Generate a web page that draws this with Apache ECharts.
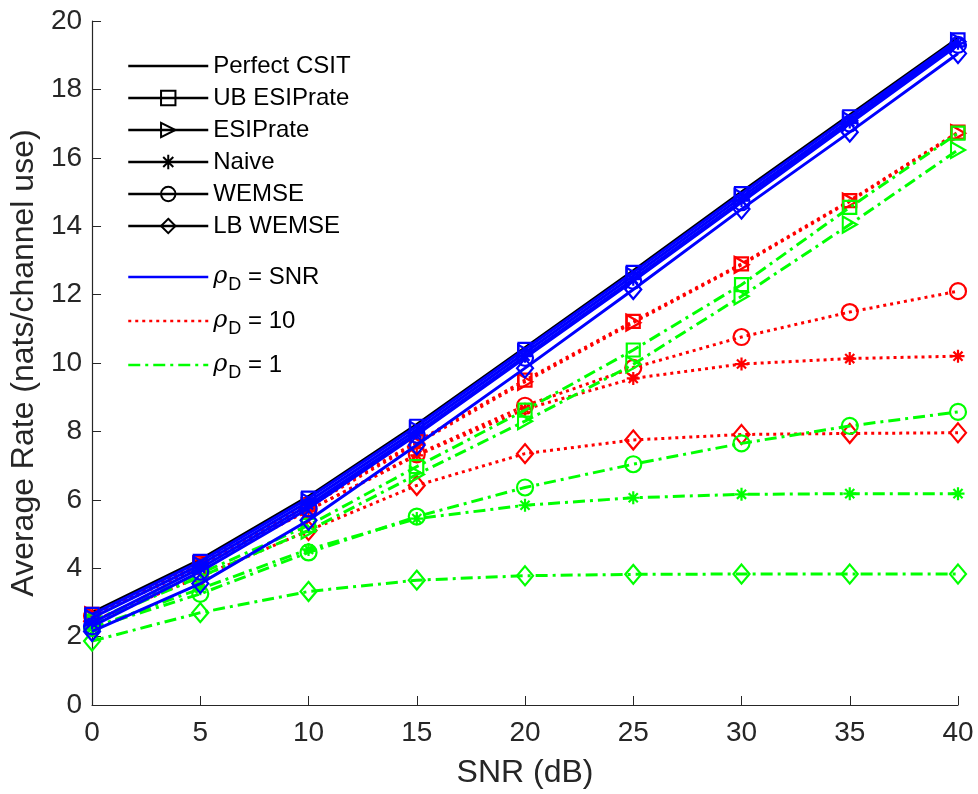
<!DOCTYPE html>
<html><head><meta charset="utf-8">
<script src="https://cdn.jsdelivr.net/npm/echarts@6/dist/echarts.min.js"></script>
<style>html,body{margin:0;padding:0;background:#fff}#c{width:978px;height:794px}</style>
</head><body><div id="c"></div>
<script>
const snr = [0, 5, 10, 15, 20, 25, 30, 35, 40];
const xTicks = [0, 5, 10, 15, 20, 25, 30, 35, 40];
const yTicks = [0, 2, 4, 6, 8, 10, 12, 14, 16, 18, 20];

const perfectCSIT = [2.70, 4.25, 6.10, 8.20, 10.45, 12.70, 15.00, 17.25, 19.50];

// rho_D = SNR (blue)
const ubSNR    = [2.65, 4.20, 6.05, 8.15, 10.40, 12.65, 14.95, 17.20, 19.45];
const esipSNR  = [2.55, 4.10, 5.95, 8.05, 10.30, 12.55, 14.85, 17.10, 19.40];
const naiveSNR = [2.40, 4.00, 5.85, 7.95, 10.20, 12.45, 14.75, 17.05, 19.35];
const wemseSNR = [2.30, 3.90, 5.75, 7.90, 10.15, 12.40, 14.70, 17.00, 19.30];
const lbSNR    = [2.15, 3.55, 5.40, 7.60, 9.85, 12.15, 14.50, 16.75, 19.05];

// rho_D = 10 (red)
const ub10    = [2.65, 4.15, 5.85, 7.70, 9.50, 11.22, 12.90, 14.75, 16.75];
const esip10  = [2.62, 4.10, 5.80, 7.65, 9.45, 11.18, 12.87, 14.72, 16.72];
const naive10 = [2.60, 4.05, 5.70, 7.30, 8.65, 9.55, 9.97, 10.13, 10.20];
const wemse10 = [2.60, 4.05, 5.70, 7.33, 8.75, 9.86, 10.76, 11.49, 12.10];
const lb10    = [2.45, 3.75, 5.10, 6.42, 7.35, 7.75, 7.91, 7.94, 7.96];

// rho_D = 1 (green)
const ub1    = [2.45, 3.85, 5.25, 6.97, 8.62, 10.38, 12.29, 14.55, 16.72];
const esip1  = [2.40, 3.75, 5.10, 6.74, 8.30, 9.96, 11.95, 14.05, 16.23];
const naive1 = [2.25, 3.40, 4.55, 5.45, 5.84, 6.06, 6.16, 6.18, 6.18];
const wemse1 = [2.25, 3.25, 4.46, 5.51, 6.36, 7.04, 7.65, 8.16, 8.57];
const lb1    = [1.87, 2.70, 3.32, 3.65, 3.78, 3.82, 3.83, 3.83, 3.83];

const methodNames = ['Perfect CSIT', 'UB ESIPrate', 'ESIPrate', 'Naive', 'WEMSE', 'LB WEMSE'];
const groupNames = ['rhoSNR', 'rho10', 'rho1'];
const groupLabels = {rhoSNR: 'SNR', rho10: '10', rho1: '1'};

const FONT = 'Liberation Sans';
const MARK = {
  'Perfect CSIT': {symbol: 'none', size: 0},
  'UB ESIPrate': {symbol: 'rect', size: 13},
  'ESIPrate': {symbol: 'path://M0,0L10,5L0,10Z', size: [14, 16]},
  'Naive': {symbol: 'path://M5,0L5,10M0,5L10,5M1.5,1.5L8.5,8.5M1.5,8.5L8.5,1.5', size: 13},
  'WEMSE': {symbol: 'circle', size: 16},
  'LB WEMSE': {symbol: 'diamond', size: [16, 19]}
};
const STYLE = {
  black: {color: '#000000', type: 'solid', width: 3},
  rhoSNR: {color: '#0000ff', type: 'solid', width: 3},
  rho10: {color: '#ff0000', type: [3, 4], width: 3},
  rho1: {color: '#00ff00', type: [12, 5, 3, 5], width: 3}
};

function mkSeries(name, method, style, data, z) {
  const m = MARK[method];
  const noMark = m.symbol === 'none';
  return {
    name: name, type: 'line', data: data ? snr.map((x, i) => [x, data[i]]) : [],
    symbol: noMark ? 'circle' : m.symbol, symbolSize: noMark ? 1 : m.size,
    showSymbol: !noMark,
    lineStyle: {color: style.color, width: style.width, type: style.type},
    itemStyle: noMark
      ? {color: 'transparent', borderColor: 'transparent', borderWidth: 0}
      : {color: 'transparent', borderColor: style.color, borderWidth: 2.2},
    emphasis: {disabled: true}, animation: false, z: z || 2
  };
}

const series = [];
// legend-only entries (no data)
methodNames.forEach(n => series.push(mkSeries(n, n, STYLE.black, null)));
groupNames.forEach(g => series.push(mkSeries(g, 'Perfect CSIT', STYLE[g], null)));
// plotted data
series.push(mkSeries('d-perfect', 'Perfect CSIT', STYLE.black, perfectCSIT, 2));
const groups = [
  ['rho10', [ub10, esip10, naive10, wemse10, lb10], 3],
  ['rho1', [ub1, esip1, naive1, wemse1, lb1], 4],
  ['rhoSNR', [ubSNR, esipSNR, naiveSNR, wemseSNR, lbSNR], 5]
];
groups.forEach(([g, arrs, z]) => {
  arrs.forEach((arr, k) => series.push(mkSeries('d-' + g + k, methodNames[k + 1], STYLE[g], arr, z)));
});

const chart = echarts.init(document.getElementById('c'), null, {renderer: 'canvas'});
chart.setOption({
  animation: false,
  backgroundColor: '#ffffff',
  grid: {left: 91, right: 20, top: 21, bottom: 88, containLabel: false},
  xAxis: {
    type: 'value', min: 0, max: 40, interval: 5,
    name: 'SNR (dB)', nameLocation: 'middle', nameGap: 52,
    nameTextStyle: {fontFamily: FONT, fontSize: 32, color: '#262626'},
    axisLine: {lineStyle: {color: '#262626', width: 1.2}},
    axisTick: {inside: true, length: 9, lineStyle: {color: '#262626'}},
    axisLabel: {fontFamily: FONT, fontSize: 28, color: '#262626', margin: 14,
      formatter: v => xTicks.includes(v) ? String(v) : ''},
    splitLine: {show: false}
  },
  yAxis: {
    type: 'value', min: 0, max: 20, interval: 2,
    name: 'Average Rate (nats/channel use)', nameLocation: 'middle', nameGap: 48,
    nameTextStyle: {fontFamily: FONT, fontSize: 32, color: '#262626'},
    axisLine: {show: true, lineStyle: {color: '#262626', width: 1.2}},
    axisTick: {show: true, inside: true, length: 9, lineStyle: {color: '#262626'}},
    axisLabel: {fontFamily: FONT, fontSize: 28, color: '#262626', margin: 10,
      formatter: v => yTicks.includes(v) ? String(v) : ''},
    splitLine: {show: false}
  },
  legend: [
    {
      data: methodNames, orient: 'vertical', left: 127, top: 54, padding: 0,
      itemWidth: 80, itemHeight: 18, itemGap: 8,
      selectedMode: false,
      textStyle: {fontFamily: FONT, fontSize: 24, color: '#000'},
      lineStyle: {width: 2.5},
      itemStyle: {borderWidth: 2}
    },
    {
      data: groupNames, orient: 'vertical', left: 127, top: 265, padding: 0,
      itemWidth: 80, itemHeight: 18, itemGap: 14.5,
      selectedMode: false,
      formatter: n => '{r|ρ}{s|D}{t| = ' + groupLabels[n] + '}',
      textStyle: {fontFamily: FONT, fontSize: 24, color: '#000',
        rich: {
          r: {fontFamily: 'DejaVu Serif', fontStyle: 'italic', fontSize: 24, color: '#000'},
          s: {fontFamily: FONT, fontSize: 18, color: '#000', padding: [17, 0, 0, 1]},
          t: {fontFamily: FONT, fontSize: 24, color: '#000'}
        }},
      lineStyle: {width: 2.5}
    }
  ],
  series: series
});
</script>
</body></html>
